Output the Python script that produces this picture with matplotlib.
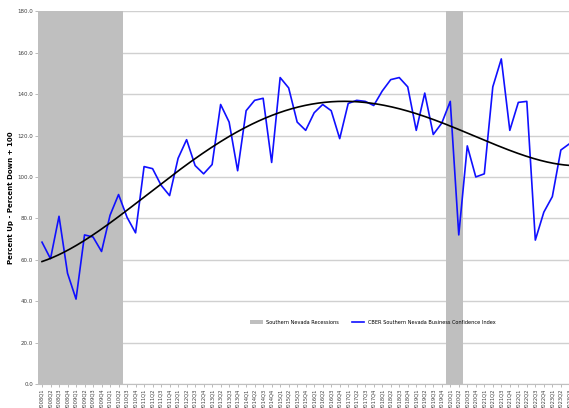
import numpy as np
import matplotlib
matplotlib.use("Agg")
import matplotlib.pyplot as plt

# quarters 2008Q1 .. 2023Q3
quarters = [f"{y}Q{q}" for y in range(2008, 2024) for q in range(1, 5)][:63]

# CBER Southern Nevada Business Confidence Index
index_values = [
    68.5, 60.5, 81.0, 53.5, 41.0, 72.0, 71.0, 64.0, 81.5, 91.5,
    80.5, 73.0, 105.0, 104.0, 96.0, 91.0, 109.0, 118.0, 105.5, 101.5,
    106.0, 135.0, 126.5, 103.0, 132.0, 137.0, 138.0, 107.0, 148.0, 143.0,
    126.5, 122.5, 131.0, 135.0, 132.0, 118.5, 135.5, 137.0, 136.5, 134.5,
    141.5, 147.0, 148.0, 143.5, 122.5, 140.5, 120.5, 126.0, 136.5, 72.0,
    115.0, 100.0, 101.5, 143.5, 157.0, 122.5, 136.0, 136.5, 69.5, 83.0,
    90.5, 113.0, 116.0,
]

# trend line at a few quarters (index into quarters)
trend_pos = [0, 5, 10, 15, 20, 25, 30, 35, 40, 45, 50, 55, 60, 62]
trend_values = [59.3, 69.0, 84.0, 100.0, 114.5, 126.0, 133.5, 136.6, 135.0,
                129.0, 121.0, 113.0, 107.0, 105.3]

# recession quarters: 2008Q1-2010Q2 and 2020Q1-2020Q2
recession_quarters = ["2008Q1", "2008Q2", "2008Q3", "2008Q4", "2009Q1", "2009Q2",
                      "2009Q3", "2009Q4", "2010Q1", "2010Q2", "2020Q1", "2020Q2"]

y_ticks = [0, 20, 40, 60, 80, 100, 120, 140, 160, 180]

x = np.arange(len(quarters))
recession = [180 if q in recession_quarters else 0 for q in quarters]

# smooth polynomial trend through the read points
coef = np.polyfit(trend_pos, trend_values, 4)
x_fine = np.linspace(0, len(quarters) - 1, 400)
trend = np.polyval(coef, x_fine)

fig = plt.figure(figsize=(5.69, 4.08), dpi=100)
ax = fig.add_axes([37.75 / 569, 24 / 408, 535.85 / 569, 372.7 / 408])

bars = ax.bar(x, recession, width=1.0, color="#bfbfbf", zorder=1,
              label="Southern Nevada Recessions")
line, = ax.plot(x, index_values, color="#1010ff", linewidth=1.2, zorder=3,
                label="CBER Southern Nevada Business Confidence Index")
ax.plot(x_fine, trend, color="black", linewidth=1.2, zorder=4)

ax.set_xlim(-0.5, len(quarters) - 0.5)
ax.set_ylim(0, 180)
ax.set_yticks(y_ticks)
ax.set_yticklabels([f"{v:.1f}" for v in y_ticks], fontsize=4, color="#404040")
ax.set_xticks(x)
ax.set_xticklabels(quarters, rotation=90, fontsize=3.7, color="#404040")
ax.tick_params(axis="both", length=2, width=0.5, color="#a0a0a0", pad=1.5)

ax.grid(axis="y", color="#d0d0d0", linewidth=1.0, zorder=0)
ax.set_axisbelow(True)
for side in ["top", "right", "left"]:
    ax.spines[side].set_visible(False)
ax.spines["bottom"].set_color("#c0c0c0")

ax.set_ylabel("Percent Up - Percent Down + 100", fontsize=5, fontweight="bold",
              labelpad=2)

ax.legend(handles=[bars, line], loc="center",
          bbox_to_anchor=((373 - 37.75) / 535.85, 1 - (322 - 11.3) / 372.7),
          bbox_transform=ax.transAxes, ncol=2, frameon=False, fontsize=3.6,
          handlelength=2.5, handleheight=0.8, columnspacing=2.5)

fig.savefig("out.png", dpi=100)
